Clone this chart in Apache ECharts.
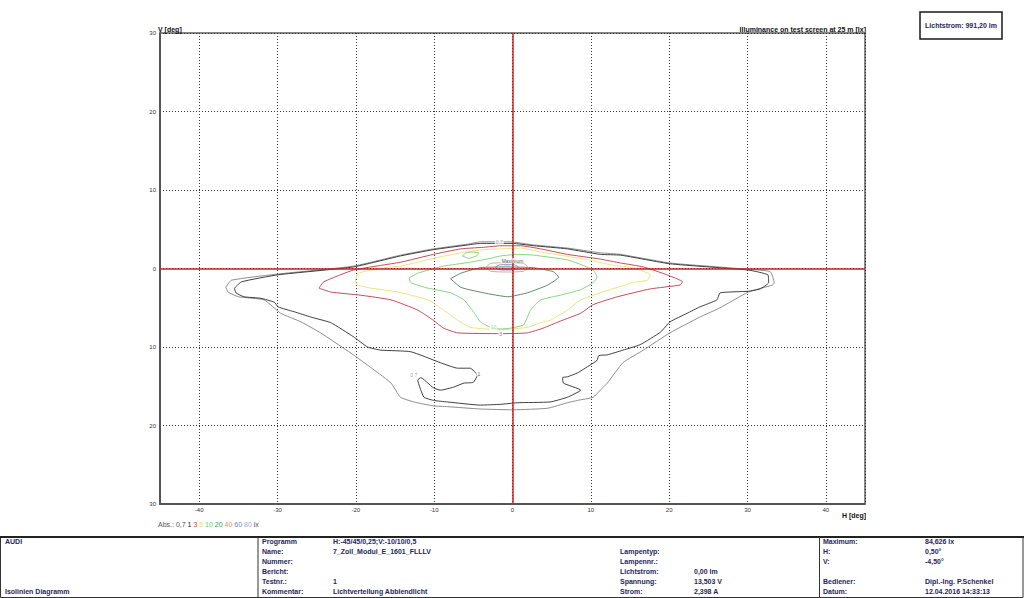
<!DOCTYPE html>
<html>
<head>
<meta charset="utf-8">
<script src="https://cdn.jsdelivr.net/npm/echarts@6/dist/echarts.min.js"></script>
<style>
  html, body { margin: 0; padding: 0; background: #fff; }
  #main { width: 1024px; height: 598px; }
</style>
</head>
<body>
<div id="main"></div>
<script>
// Isolinien (H [deg], V [deg]) je Beleuchtungsstärke
const iso07 = [[-36.6,-2.4],[-35.9,-1.5],[-29.9,-0.7],[-20.3,0.3],[-14.3,1.7],[-10.1,2.5],[-5.7,3.1],[-4.1,3.4],[-1.7,3.4],[-0.3,3.4],[2.7,3.0],[7.0,2.6],[11.2,2.0],[13.8,1.8],[20.1,0.7],[30.1,-0.1],[32.9,-0.4],[33.4,-1.8],[33.2,-2.1],[30.1,-3.0],[26.5,-5.0],[23.9,-6.2],[20.1,-8.2],[16.7,-10.4],[14.1,-12.0],[12.1,-14.6],[11.2,-15.5],[10.3,-16.4],[8.3,-16.8],[7.0,-17.1],[4.5,-17.8],[0.1,-18.0],[-4.1,-17.9],[-8.3,-17.6],[-10.1,-17.5],[-12.6,-17.0],[-14.3,-16.4],[-15.5,-14.6],[-17.7,-12.9],[-20.6,-10.8],[-24.5,-8.2],[-27.0,-6.8],[-29.6,-5.7],[-31.7,-4.0],[-35.0,-3.6],[-36.3,-3.0],[-36.6,-2.4]];
const iso1 = [[-35.5,-2.5],[-34.6,-1.7],[-29.9,-0.8],[-20.3,0.2],[-14.3,1.6],[-10.1,2.4],[-5.7,3.0],[-4.1,3.2],[0,3.2],[2.7,2.9],[7.0,2.5],[11.2,1.8],[13.8,1.7],[20.1,0.6],[30.1,-0.2],[32.6,-0.8],[32.7,-1.8],[31.6,-2.6],[30.1,-2.9],[26.5,-3.1],[26.1,-4.0],[23.9,-4.9],[22.3,-5.7],[20.1,-6.8],[18.9,-8.1],[16.3,-9.7],[14.1,-10.4],[12.1,-11.0],[11.0,-11.1],[10.8,-11.7],[9.9,-12.3],[8.3,-13.3],[7.0,-13.8],[6.4,-13.9],[6.5,-14.6],[8.7,-15.5],[7.0,-16.4],[4.8,-17.0],[0.6,-17.1],[-1.5,-17.3],[-4.1,-17.4],[-8.3,-17.0],[-10.1,-16.8],[-11.3,-16.4],[-11.7,-15.5],[-12.1,-14.2],[-11.7,-13.9],[-10.8,-14.6],[-10.1,-15.2],[-9.2,-15.5],[-7.5,-15.1],[-6.2,-14.6],[-5.0,-14.5],[-4.5,-13.6],[-5.4,-12.7],[-7.0,-12.7],[-9.2,-12.0],[-13.0,-10.6],[-16.8,-10.4],[-18.5,-10.0],[-20.3,-8.7],[-23.2,-6.9],[-25.7,-6.2],[-27.9,-5.5],[-29.9,-4.9],[-30.4,-4.3],[-32.1,-3.8],[-34.3,-3.6],[-35.3,-3.1],[-35.5,-2.5]];
const iso3 = [[-24.7,-2.5],[-24.1,-1.7],[-20.3,-0.2],[-14.3,0.8],[-10.1,1.8],[-6.6,2.5],[-3.7,2.7],[-1.5,2.9],[1.0,2.9],[3.6,2.5],[7.0,1.8],[11.2,1.2],[13.8,0.7],[16.7,0.2],[19.7,-0.8],[21.7,-1.7],[21.4,-2.1],[17.6,-2.6],[13.4,-3.6],[10.3,-4.6],[8.7,-5.7],[6.1,-6.7],[3.9,-7.6],[1.9,-8.2],[-1.5,-8.3],[-7.0,-8.2],[-8.8,-7.6],[-10.1,-6.6],[-12.1,-5.3],[-15.5,-4.0],[-19.4,-3.4],[-23.2,-3.0],[-24.7,-2.5]];
const iso5 = [[-20.1,-1.6],[-19.7,-0.6],[-16.4,0.1],[-14.3,0.3],[-10.1,1.3],[-6.6,2.0],[-3.7,2.4],[-1.5,2.5],[1.0,2.6],[3.6,2.1],[6.1,1.7],[9.6,1.1],[12.9,0.4],[15.4,0.1],[17.6,-0.8],[17.2,-1.5],[15.4,-1.8],[11.2,-3.1],[8.7,-4.0],[7.0,-5.3],[4.8,-6.6],[3.6,-6.9],[1.9,-7.5],[-1.5,-7.8],[-5.4,-7.5],[-7.0,-6.6],[-8.8,-5.3],[-10.8,-4.0],[-14.6,-3.0],[-18.1,-2.5],[-19.7,-2.1],[-20.1,-1.6]];
const iso10 = [[-13.2,-1.2],[-12.1,-0.6],[-8.8,0.3],[-5.4,0.8],[-2.8,1.3],[-1.5,1.6],[0.6,1.8],[2.7,1.7],[7.0,1.1],[9.0,0.4],[10.3,-0.2],[10.8,-1.1],[10.3,-1.8],[8.7,-2.7],[6.1,-3.4],[3.6,-4.0],[2.3,-5.3],[1.9,-6.2],[1.4,-7.2],[-0.3,-7.6],[-1.5,-7.7],[-2.8,-7.5],[-4.1,-6.8],[-5.0,-5.5],[-6.2,-4.0],[-7.9,-3.1],[-10.8,-2.5],[-13.0,-1.8],[-13.2,-1.2]];
const iso10b = [[-6.4,1.6],[-5.9,2.0],[-5.1,2.1],[-4.3,2.0],[-4.6,1.6],[-5.6,1.3],[-6.4,1.6]];
const iso20 = [[-7.9,-1.3],[-6.6,-0.6],[-4.1,0.1],[-0.6,0.2],[2.7,0.1],[5.2,-0.4],[5.9,-1.1],[4.5,-2.1],[1.9,-3.1],[-0.6,-3.6],[-3.7,-3.1],[-6.6,-2.4],[-7.9,-1.3]];
const iso40 = [[-3.4,0.15],[-2.8,0.65],[-0.7,0.75],[1.4,0.65],[2.0,0.15],[1.4,-0.35],[-0.7,-0.45],[-2.8,-0.35],[-3.4,0.15]];
const iso60 = [[-2.2,0.15],[-1.7,0.45],[-0.7,0.5],[0.3,0.45],[0.8,0.15],[0.3,-0.15],[-0.7,-0.2],[-1.7,-0.15],[-2.2,0.15]];
const iso80 = [[-1.3,0.15],[-1.0,0.3],[-0.7,0.33],[-0.4,0.3],[-0.1,0.15],[-0.4,0.0],[-0.7,-0.03],[-1.0,0.0],[-1.3,0.15]];

// Beschriftungen an den Linien
const isoLabelText = ['0,7', 'Maximum', '10', '3', '1', '0,7'];
const isoLabelPos = [[-1.7,3.4],[0.0,1.0],[-2.4,-7.5],[-1.5,-8.3],[-4.3,-13.4],[-12.6,-13.6]];
const isoLabelLevel = ['0,7', '', '10', '3', '1', '0,7'];

const levelColors = {
  '0,7': '#808080', '1': '#2a2a2a', '3': '#c0384a', '5': '#ece070',
  '10': '#78d070', '20': '#4a7f56', '40': '#e49a7a', '60': '#7890c8', '80': '#a8a8e6', '': '#222'
};

// Tabelle unten
const infoLeft = ['AUDI', 'Isolinien Diagramm'];
const col2Labels = ['Programm', 'Name:', 'Nummer:', 'Bericht:', 'Testnr.:', 'Kommentar:'];
const col2Values = ['H:-45/45/0,25;V:-10/10/0,5', '7_Zoll_Modul_E_1601_FLLLV', '', '', '1', 'Lichtverteilung Abblendlicht'];
const col3Labels = ['', 'Lampentyp:', 'Lampennr.:', 'Lichtstrom:', 'Spannung:', 'Strom:'];
const col3Values = ['', '', '', '0,00 lm', '13,503 V', '2,398 A'];
const col4Labels = ['Maximum:', 'H:', 'V:', '', 'Bediener:', 'Datum:'];
const col4Values = ['84,626 lx', '0,50°', '-4,50°', '', 'Dipl.-Ing. P.Schenkel', '12.04.2016 14:33:13'];

const FONT = '"Liberation Sans", Arial, sans-serif';
const NAVY = '#26265e';
const rowY = [541, 551.5, 561.5, 571.5, 581, 591];

function isoSeries(name, data, level, width) {
  return {
    name: name,
    type: 'line',
    data: data,
    smooth: 0.15,
    symbol: 'none',
    silent: true,
    z: 3,
    lineStyle: { color: levelColors[level], width: width || 0.9 }
  };
}

function tableTexts() {
  const out = [];
  const add = (txt, x, y) => {
    if (!txt) return;
    out.push({
      type: 'text', silent: true,
      style: { text: txt, x: x, y: y, fill: NAVY, font: 'bold 7px ' + FONT, textVerticalAlign: 'middle' }
    });
  };
  add(infoLeft[0], 5, rowY[0]);
  add(infoLeft[1], 5, rowY[5]);
  for (let i = 0; i < rowY.length; i += 1) {
    add(col2Labels[i], 262, rowY[i]);
    add(col2Values[i], 333, rowY[i]);
    add(col3Labels[i], 620, rowY[i]);
    add(col3Values[i], 694, rowY[i]);
    add(col4Labels[i], 823, rowY[i]);
    add(col4Values[i], 925, rowY[i]);
  }
  return out;
}

const chart = echarts.init(document.getElementById('main'), null, { renderer: 'svg' });

const option = {
  animation: false,
  backgroundColor: '#fff',
  grid: { left: 160, right: 159, top: 33, bottom: 94, show: true, borderColor: '#111', borderWidth: 1 },
  xAxis: {
    type: 'value', min: -45, max: 45, minInterval: 10, maxInterval: 10,
    axisLine: { show: true, onZero: false, lineStyle: { color: '#555', width: 2 } },
    axisTick: { show: false },
    axisLabel: { fontSize: 6, color: '#333', margin: 3, showMinLabel: false, showMaxLabel: false, fontFamily: FONT },
    splitLine: { show: true, lineStyle: { color: '#333', width: 1, type: [1, 2] } }
  },
  yAxis: {
    type: 'value', min: -30, max: 30, interval: 10,
    axisLine: { show: true, onZero: false, lineStyle: { color: '#555', width: 2 } },
    axisTick: { show: false },
    axisLabel: { fontSize: 6, color: '#333', margin: 4, fontFamily: FONT, formatter: v => String(Math.abs(v)) },
    splitLine: { show: true, lineStyle: { color: '#333', width: 1, type: [1, 2] } }
  },
  series: [
    isoSeries('0,7 lx', iso07, '0,7'),
    isoSeries('1 lx', iso1, '1'),
    isoSeries('3 lx', iso3, '3'),
    isoSeries('5 lx', iso5, '5'),
    isoSeries('10 lx', iso10, '10'),
    isoSeries('10 lx b', iso10b, '10'),
    isoSeries('20 lx', iso20, '20'),
    isoSeries('40 lx', iso40, '40'),
    isoSeries('60 lx', iso60, '60'),
    isoSeries('80 lx', iso80, '80'),
    {
      // Achsenkreuz rot
      name: 'axes', type: 'line', data: [], silent: true, z: 5,
      markLine: {
        silent: true, symbol: ['none', 'none'], label: { show: false },
        lineStyle: { color: '#d42020', width: 1.5, type: 'solid' },
        data: [{ xAxis: 0 }, { yAxis: 0 }]
      }
    },
    {
      name: 'labels', type: 'scatter', symbolSize: 0, silent: true, z: 6,
      data: isoLabelPos.map((p, i) => ({ value: p, name: isoLabelText[i], level: isoLabelLevel[i] })),
      label: {
        show: true, position: 'inside', fontSize: 5, fontFamily: FONT,
        formatter: p => p.name
      },
      labelLayout: { hideOverlap: false }
    }
  ],
  graphic: [
    { type: 'text', silent: true, style: { text: 'V [deg]', x: 158, y: 29, fill: '#111', fontSize: 7, fontWeight: 'bold', fontFamily: FONT, textVerticalAlign: 'middle' } },
    { type: 'text', silent: true, style: { text: 'Illuminance on test screen at 25 m [lx]', x: 866, y: 29, fill: '#111', fontSize: 7, fontWeight: 'bold', fontFamily: FONT, textAlign: 'right', textVerticalAlign: 'middle' } },
    { type: 'text', silent: true, style: { text: 'H [deg]', x: 866, y: 515, fill: '#111', fontSize: 7, fontWeight: 'bold', fontFamily: FONT, textAlign: 'right', textVerticalAlign: 'middle' } },
    { type: 'rect', silent: true, shape: { x: 920, y: 12, width: 82, height: 27 }, style: { fill: '#fff', stroke: '#1a1a1a', lineWidth: 1.5 } },
    { type: 'text', silent: true, style: { text: 'Lichtstrom: 991,20 lm', x: 961, y: 25.5, fill: NAVY, font: 'bold 7px ' + FONT, textAlign: 'center', textVerticalAlign: 'middle' } },
    {
      type: 'text', silent: true,
      style: {
        text: '{g|Abs.: 0,7} {k|1} {r|3} {y|5} {lg|10} {dg|20} {o|40} {b|60} {l|80} {g|lx}',
        x: 158, y: 524, font: '7px ' + FONT, textVerticalAlign: 'middle',
        rich: {
          g: { fill: '#555', fontSize: 7, fontFamily: FONT },
          k: { fill: '#222', fontSize: 7, fontFamily: FONT },
          r: { fill: '#d03838', fontSize: 7, fontFamily: FONT },
          y: { fill: '#ecd850', fontSize: 7, fontFamily: FONT },
          lg: { fill: '#66cc66', fontSize: 7, fontFamily: FONT },
          dg: { fill: '#3f9a4a', fontSize: 7, fontFamily: FONT },
          o: { fill: '#e8906a', fontSize: 7, fontFamily: FONT },
          b: { fill: '#6a88c0', fontSize: 7, fontFamily: FONT },
          l: { fill: '#a4a4e0', fontSize: 7, fontFamily: FONT }
        }
      }
    },
    // Tabellenrahmen
    { type: 'rect', silent: true, shape: { x: 0.5, y: 537, width: 1022.5, height: 60.5 }, style: { fill: 'none', stroke: '#333', lineWidth: 1 } },
    { type: 'line', silent: true, shape: { x1: 0, y1: 537, x2: 1024, y2: 537 }, style: { stroke: '#222', lineWidth: 2 } },
    { type: 'line', silent: true, shape: { x1: 258, y1: 537, x2: 258, y2: 598 }, style: { stroke: '#333', lineWidth: 1 } },
    { type: 'line', silent: true, shape: { x1: 819.5, y1: 537, x2: 819.5, y2: 598 }, style: { stroke: '#333', lineWidth: 1 } }
  ].concat(tableTexts())
};

// Label-Farben je Isolinie
option.series[option.series.length - 1].data.forEach(d => {
  d.label = {
    color: levelColors[d.level],
    backgroundColor: '#fff',
    padding: [0, 1]
  };
});

chart.setOption(option);
</script>
</body>
</html>
